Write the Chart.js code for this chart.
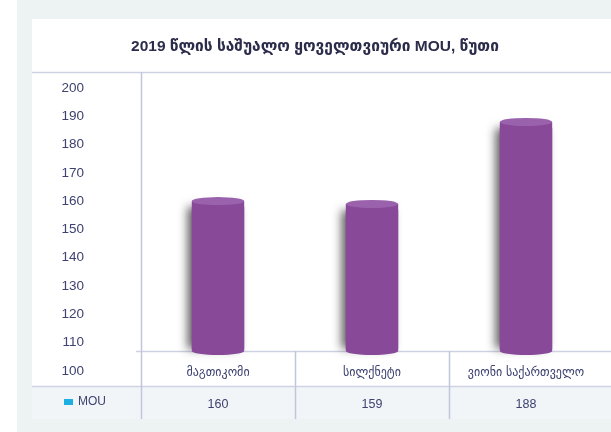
<!DOCTYPE html>
<html>
<head>
<meta charset="utf-8">
<script src="https://cdn.jsdelivr.net/npm/chart.js@4/dist/chart.umd.min.js"></script>
<style>
    body { margin: 0; background: #ffffff; }
    #wrap { width: 611px; height: 432px; }
</style>
</head>
<body>
<div id="wrap"><canvas id="mouChart" width="611" height="432"></canvas></div>
<script>
const chartTitle = '2019 წლის საშუალო ყოველთვიური MOU, წუთი';
const categories = ['მაგთიკომი', 'სილქნეტი', 'ვიონი საქართველო'];
const seriesName = 'MOU';
const mouValues = [160, 159, 188];
const yTickLabels = [100, 110, 120, 130, 140, 150, 160, 170, 180, 190, 200];

// the plot floor sits a little above the "100" label, like the 3d original
const Y_FLOOR = 107;
const Y_MAX = 200;

const PURPLE = '#884a98';
const PURPLE_TOP = '#9a62ad';
const LINE = '#cfd2e2';
const AXIS_LINE = '#c2c6da';
const TEXT = '#3d4270';

// card, table lines, cylinder look, data row
const tableLook = {
    id: 'tableLook',
    beforeDraw(chart) {
        const ctx = chart.ctx;
        const area = chart.chartArea;
        const x = chart.scales.x;
        ctx.save();
        ctx.fillStyle = '#ffffff';
        ctx.fillRect(0, 0, chart.width, chart.height);
        ctx.fillStyle = '#edf2f2';
        ctx.fillRect(17, 0, chart.width - 17, chart.height);
        ctx.fillStyle = '#ffffff';
        ctx.fillRect(32, 19, chart.width - 32, 400);
        // data row background
        ctx.fillStyle = '#f1f5f8';
        ctx.fillRect(32, 387, chart.width - 32, 32);

        ctx.lineWidth = 1.5;
        ctx.strokeStyle = LINE;
        ctx.beginPath();
        ctx.moveTo(32, 72.5); ctx.lineTo(chart.width, 72.5);
        ctx.moveTo(136, area.bottom + 0.5); ctx.lineTo(chart.width, area.bottom + 0.5);
        ctx.moveTo(32, 386.5); ctx.lineTo(chart.width, 386.5);
        ctx.stroke();

        ctx.strokeStyle = AXIS_LINE;
        ctx.beginPath();
        ctx.moveTo(area.left + 0.5, 72); ctx.lineTo(area.left + 0.5, 419);
        const colW = (x.right - x.left) / categories.length;
        for (let i = 1; i < categories.length; i++) {
            const bx = Math.round(x.left + i * colW) + 0.5;
            ctx.moveTo(bx, area.bottom); ctx.lineTo(bx, 419);
        }
        ctx.stroke();
        ctx.restore();
    },
    beforeDatasetsDraw(chart) {
        // soft shadow on the left of each cylinder
        const ctx = chart.ctx;
        ctx.save();
        chart.getDatasetMeta(0).data.forEach(bar => {
            ctx.shadowColor = 'rgba(30, 30, 30, 0.7)';
            ctx.shadowBlur = 9;
            ctx.shadowOffsetX = -5;
            ctx.fillStyle = PURPLE;
            ctx.fillRect(bar.x - bar.width / 2, bar.y + 6, bar.width, bar.base - bar.y - 8);
        });
        ctx.restore();
    },
    afterDatasetsDraw(chart) {
        const ctx = chart.ctx;
        ctx.save();
        chart.getDatasetMeta(0).data.forEach(bar => {
            const rx = bar.width / 2;
            ctx.fillStyle = PURPLE;
            ctx.beginPath();
            ctx.ellipse(bar.x, bar.base, rx, 4, 0, 0, Math.PI);
            ctx.fill();
            ctx.fillStyle = PURPLE_TOP;
            ctx.beginPath();
            ctx.ellipse(bar.x, bar.y, rx, 4, 0, 0, Math.PI * 2);
            ctx.fill();
        });
        ctx.restore();
    },
    afterDraw(chart) {
        const ctx = chart.ctx;
        const x = chart.scales.x;
        ctx.save();
        ctx.fillStyle = '#2b2c4a';
        ctx.font = 'bold 15.5px "Liberation Sans", "DejaVu Sans", sans-serif';
        ctx.textAlign = 'center';
        ctx.textBaseline = 'middle';
        ctx.fillText(chartTitle, 315, 47);

        // legend cell of the data table
        ctx.fillStyle = '#1cb0e2';
        ctx.fillRect(64, 399, 9, 6);
        ctx.fillStyle = TEXT;
        ctx.font = '12px "Liberation Sans", sans-serif';
        ctx.textAlign = 'left';
        ctx.fillText(seriesName, 78, 402);

        ctx.textAlign = 'center';
        ctx.font = '12.5px "Liberation Sans", sans-serif';
        mouValues.forEach((v, i) => {
            ctx.fillText(String(v), x.getPixelForValue(i), 405);
        });
        ctx.restore();
    }
};

const ctx = document.getElementById('mouChart').getContext('2d');
new Chart(ctx, {
    type: 'bar',
    data: {
        labels: categories,
        datasets: [{
            label: seriesName,
            data: mouValues,
            base: Y_FLOOR,
            backgroundColor: PURPLE,
            borderWidth: 0,
            barPercentage: 0.34,
            categoryPercentage: 1
        }]
    },
    options: {
        responsive: false,
        animation: false,
        layout: { padding: { top: 88, right: 8, bottom: 0, left: 0 } },
        plugins: {
            legend: { display: false },
            tooltip: { enabled: false },
            title: { display: false }
        },
        scales: {
            x: {
                offset: true,
                grid: { display: false, drawTicks: false },
                border: { display: false },
                ticks: {
                    color: TEXT,
                    font: { family: '"DejaVu Sans", sans-serif', size: 12 },
                    padding: 15,
                    maxRotation: 0,
                    autoSkip: false
                },
                afterFit(scale) { scale.height = 81; }
            },
            y: {
                min: Y_FLOOR,
                max: Y_MAX,
                grid: { display: false, drawTicks: false },
                border: { display: false },
                afterBuildTicks(scale) {
                    scale.ticks = yTickLabels.map(v => ({ value: v }));
                },
                ticks: {
                    color: TEXT,
                    font: { family: '"Liberation Sans", sans-serif', size: 13.5 },
                    padding: 57,
                    autoSkip: false
                },
                afterFit(scale) { scale.width = 141; }
            }
        }
    },
    plugins: [tableLook]
});
</script>
</body>
</html>
